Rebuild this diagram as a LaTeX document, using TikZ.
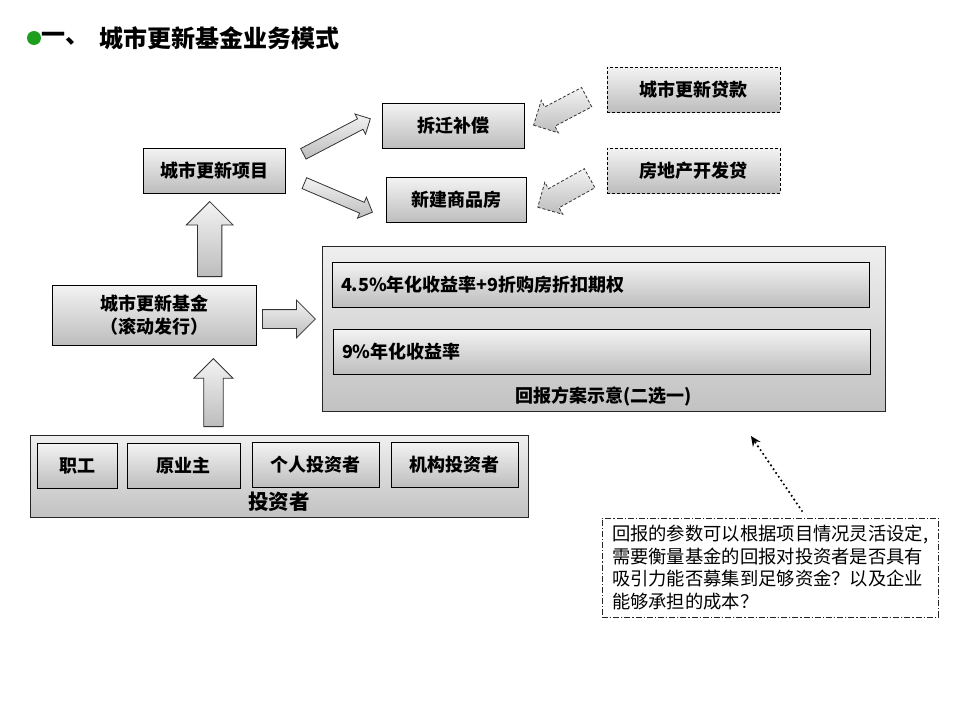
\documentclass[tikz,border=0pt]{standalone}
\usepackage{fontspec}
\setmainfont{Noto Sans CJK SC}
\usetikzlibrary{shapes.arrows,arrows.meta}
\definecolor{ttgreen}{HTML}{1E9E1E}
\definecolor{boxtop}{HTML}{F3F3F3}
\definecolor{boxbot}{HTML}{BDBDBD}
\definecolor{outtop}{HTML}{EFEFEF}
\definecolor{outbot}{HTML}{C2C2C2}
\tikzset{
  box/.style={draw=black, line width=0.9pt, top color=boxtop, bottom color=boxbot,
    font=\bfseries\fontsize{18}{23}\selectfont, inner sep=0pt, align=center},
  outbox/.style={draw=black!85, line width=0.9pt, top color=outtop, bottom color=outbot, inner sep=0pt},
  loanbox/.style={box, dash pattern=on 3pt off 2pt},
  lbl/.style={font=\bfseries\fontsize{18}{23}\selectfont, inner sep=0pt},
  barrow/.style n args={4}{single arrow, draw=black!80, line width=0.8pt, anchor=tail,
    top color=boxtop, bottom color=boxbot, inner xsep=0pt, inner ysep=#4, single arrow tip angle=90,
    minimum height=#1, minimum width=#2, single arrow head extend=#3},
  notebox/.style={draw=black!85, line width=0.8pt, dash pattern=on 6pt off 2pt on 1.2pt off 2pt,
    font=\fontsize{18.3}{22.5}\selectfont, align=left, inner xsep=10pt,
    minimum width=336pt, minimum height=99pt, text width=316pt},
}
\begin{document}
\begin{tikzpicture}[x=1pt,y=1pt]
\useasboundingbox (0,0) rectangle (960,-720);
% title
\fill[ttgreen] (34,-38) circle (7);
\node[font=\bfseries\fontsize{24}{27}\selectfont, anchor=west, inner sep=0pt] (t1) at (41,-38.5) {一、};
\node[font=\bfseries\fontsize{24}{27}\selectfont, anchor=west, inner sep=0pt] (t2) at (99,-38.5) {城市更新基金业务模式};
% top boxes
\node[box, minimum width=142pt, minimum height=45pt] (proj) at (214,-170.5) {城市更新项目};
\node[box, minimum width=142pt, minimum height=45pt] (cq) at (453,-125.5) {拆迁补偿};
\node[box, minimum width=140pt, minimum height=45pt] (xj) at (456,-200) {新建商品房};
\node[loanbox, minimum width=173pt, minimum height=45pt] (loan1) at (693.5,-89.5) {城市更新贷款};
\node[loanbox, minimum width=173pt, minimum height=45pt] (loan2) at (693.5,-170.5) {房地产开发贷};
% block arrows (placed by their tails)
\node[barrow={75.6pt}{22pt}{5.5pt}{5.5pt}, rotate=27.6] (a1) at (303,-154) {};
\node[barrow={74pt}{22pt}{5.5pt}{5.5pt}, rotate=-23.1] (a2) at (304,-183) {};
\node[barrow={60pt}{36pt}{7.5pt}{10.5pt}, rotate=207.8, dash pattern=on 3pt off 2pt] (a3) at (587,-97) {};
\node[barrow={59.5pt}{36pt}{7.5pt}{10.5pt}, rotate=209.2, dash pattern=on 3pt off 2pt] (a4) at (590,-178) {};
\node[barrow={75pt}{46pt}{11.25pt}{11.75pt}, rotate=90] (a5) at (209.7,-277) {};
\node[barrow={53pt}{37pt}{9.5pt}{9pt}] (a6) at (262,-319) {};
\node[barrow={68pt}{38.5pt}{9.9pt}{9.35pt}, rotate=90] (a7) at (213.4,-427) {};
% fund
\node[box, minimum width=204pt, minimum height=60pt] (fund) at (154,-315) {城市更新基金\\（滚动发行）};
% return scheme
\node[outbox, minimum width=563pt, minimum height=165pt] (ret) at (603.5,-328.5) {};
\node[box, minimum width=537pt, minimum height=45pt, text width=519pt, inner xsep=9pt, align=left] (ret1) at (600.5,-284.5) {4.5\%年化收益率+9折购房折扣期权};
\node[box, minimum width=537pt, minimum height=45pt, text width=519pt, inner xsep=9pt, align=left] (ret2) at (601.5,-352) {9\%年化收益率};
\node[lbl] (retlab) at (603.5,-396) {回报方案示意(二选一)};
% investors
\node[outbox, minimum width=498pt, minimum height=82pt] (inv) at (279,-476) {};
\node[box, minimum width=80pt, minimum height=45pt] (inv1) at (77,-465.5) {职工};
\node[box, minimum width=113pt, minimum height=45pt] (inv2) at (183.5,-465.5) {原业主};
\node[box, minimum width=127pt, minimum height=45pt] (inv3) at (315.5,-465) {个人投资者};
\node[box, minimum width=127pt, minimum height=45pt] (inv4) at (454.5,-465) {机构投资者};
\node[lbl, font=\bfseries\fontsize{20.5}{24}\selectfont] (invlab) at (279,-502) {投资者};
% note
\node[notebox] (note) at (770,-567.5) {回报的参数可以根据项目情况灵活设定,\\需要衡量基金的回报对投资者是否具有\\吸引力能否募集到足够资金？以及企业\\能够承担的成本？};
\coordinate (dotS) at (802,-511);
\coordinate (dotE) at (751,-436);
\draw[line width=2.4pt, line cap=round, dash pattern=on 0pt off 4.6pt, -{Stealth[length=10pt,width=9pt]}] (dotS) -- (dotE);
\end{tikzpicture}
\end{document}
